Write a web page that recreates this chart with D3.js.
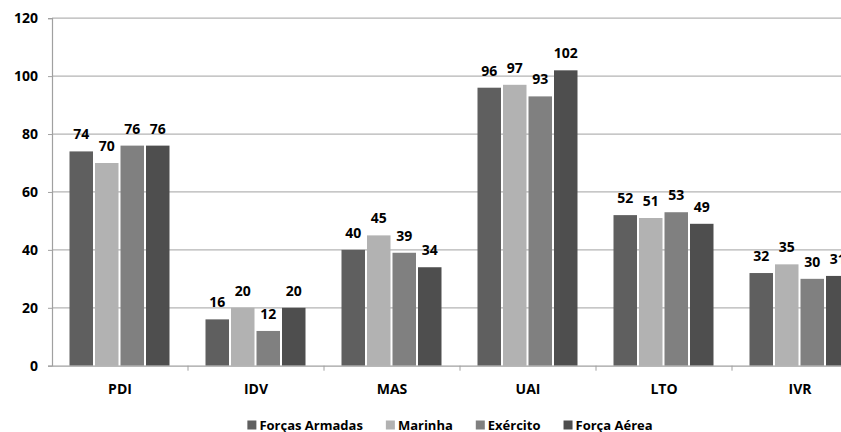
<!DOCTYPE html>
<html>
<head>
<meta charset="utf-8">
<script src="https://cdn.jsdelivr.net/npm/d3@7/dist/d3.min.js"></script>
<style>
  html, body { margin: 0; padding: 0; background: #fff; overflow: hidden; }
  svg { display: block; }
  text { font-family: "Open Sans", sans-serif; font-weight: 700; fill: #000; }
</style>
</head>
<body>
<svg id="chart" width="841" height="432"></svg>
<script>
const categories = ["PDI", "IDV", "MAS", "UAI", "LTO", "IVR"];
const seriesNames = ["Forças Armadas", "Marinha", "Exército", "Força Aérea"];
const forcasArmadas = [74, 16, 40, 96, 52, 32];
const marinha = [70, 20, 45, 97, 51, 35];
const exercito = [76, 12, 39, 93, 53, 30];
const forcaAerea = [76, 20, 34, 102, 49, 31];
const yTicks = [0, 20, 40, 60, 80, 100, 120];
const colors = ["#5f5f5f", "#b2b2b2", "#808080", "#4e4e4e"];

const seriesValues = [forcasArmadas, marinha, exercito, forcaAerea];

const svg = d3.select("#chart");
const pLeft = 52, pRight = 868, pTop = 18.2, pBottom = 365.7;

const x0 = d3.scaleBand().domain(categories).range([pLeft, pRight]).paddingInner(0).paddingOuter(0);
const x1 = d3.scaleBand().domain(seriesNames).range([17.5, x0.bandwidth() - 16.5]).padding(0);
const y = d3.scaleLinear().domain([0, 120]).range([pBottom, pTop]);

// gridlines
svg.append("g")
  .selectAll("line")
  .data(yTicks.filter(d => d > 0))
  .join("line")
  .attr("x1", pLeft).attr("x2", pRight)
  .attr("y1", d => y(d)).attr("y2", d => y(d))
  .attr("stroke", "#b4b4b4").attr("stroke-width", 1.2);

// y axis
const yAxis = svg.append("g")
  .attr("transform", `translate(${pLeft},0)`)
  .call(d3.axisLeft(y).tickValues(yTicks).tickSize(4).tickPadding(10));
yAxis.select(".domain").attr("stroke", "#a0a0a0").attr("stroke-width", 1.2);
yAxis.selectAll(".tick line").attr("stroke", "#a0a0a0");
yAxis.selectAll(".tick text")
  .attr("font-size", 14).attr("font-family", "Open Sans, sans-serif").attr("font-weight", 700).attr("fill", "#000");

// bars
const groups = svg.append("g")
  .selectAll("g")
  .data(categories)
  .join("g")
  .attr("transform", d => `translate(${x0(d)},0)`);

groups.selectAll("rect")
  .data((c, i) => seriesNames.map((s, j) => ({ s, j, v: seriesValues[j][i] })))
  .join("rect")
  .attr("x", d => x1(d.s))
  .attr("width", x1.bandwidth() - 2)
  .attr("y", d => y(d.v))
  .attr("height", d => y(0) - y(d.v))
  .attr("fill", d => colors[d.j]);

groups.selectAll("text.val")
  .data((c, i) => seriesNames.map((s, j) => ({ s, j, v: seriesValues[j][i] })))
  .join("text")
  .attr("class", "val")
  .attr("x", d => x1(d.s) + (x1.bandwidth() - 2) / 2)
  .attr("y", d => y(d.v) - 12)
  .attr("text-anchor", "middle")
  .attr("font-size", 14)
  .text(d => d.v);

// x axis
const xAxis = svg.append("g")
  .attr("transform", `translate(0,${pBottom})`)
  .call(d3.axisBottom(x0).tickSize(0).tickPadding(18));
xAxis.select(".domain").attr("stroke", "#a0a0a0").attr("stroke-width", 1.2);
xAxis.selectAll(".tick text")
  .attr("font-size", 14).attr("font-family", "Open Sans, sans-serif").attr("font-weight", 700).attr("fill", "#000");
// boundary tick marks
svg.append("g")
  .selectAll("line")
  .data(categories.slice(1))
  .join("line")
  .attr("x1", d => x0(d)).attr("x2", d => x0(d))
  .attr("y1", pBottom).attr("y2", pBottom + 5)
  .attr("stroke", "#a0a0a0");

// legend
const legend = svg.append("g");
const items = legend.selectAll("g").data(seriesNames).join("g");
items.append("rect").attr("width", 9).attr("height", 9).attr("y", -9).attr("fill", (d, i) => colors[i]);
items.append("text").attr("x", 12).attr("y", 0).attr("font-size", 13).text(d => d);
let xpos = 0;
items.each(function() {
  const w = 12 + d3.select(this).select("text").node().getComputedTextLength();
  d3.select(this).attr("transform", `translate(${xpos},0)`);
  xpos += w + 23;
});
const totalW = xpos - 23;
legend.attr("transform", `translate(${450 - totalW / 2},429.5)`);
</script>
</body>
</html>
